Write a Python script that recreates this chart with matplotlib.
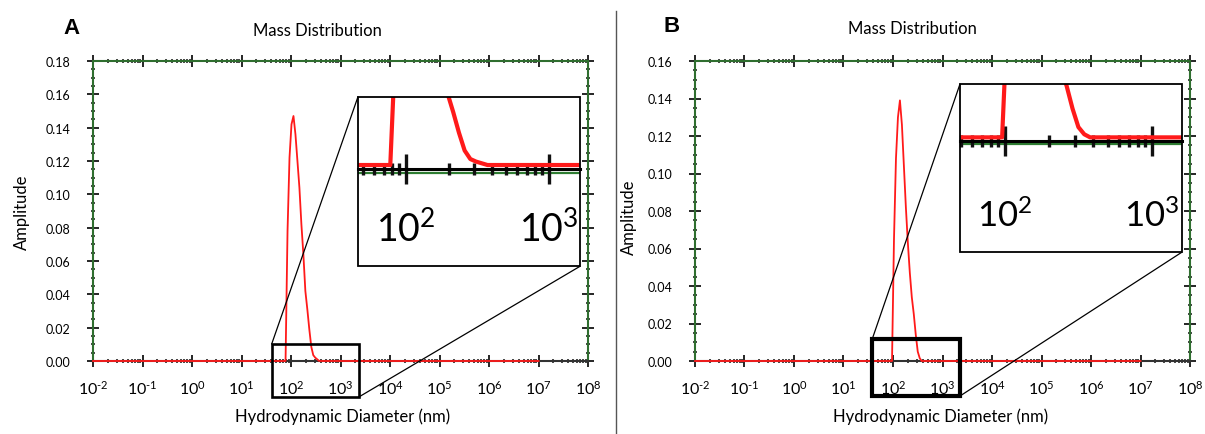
import numpy as np
import matplotlib
matplotlib.use("Agg")
import matplotlib.pyplot as plt
from matplotlib.ticker import (LogLocator, AutoMinorLocator, MultipleLocator,
                               FuncFormatter, NullFormatter, FixedLocator)
from matplotlib.patches import Rectangle, ConnectionPatch
from matplotlib.transforms import blended_transform_factory
from matplotlib.lines import Line2D

plt.rcParams['font.family'] = ['Lato', 'DejaVu Sans']
plt.rcParams['mathtext.fontset'] = 'custom'
plt.rcParams['mathtext.rm'] = 'Lato'
plt.rcParams['mathtext.it'] = 'Lato:italic'
plt.rcParams['mathtext.bf'] = 'Lato:bold'

# Mass distribution, sample A (diameter in nm, amplitude)
diam_a = [0.01, 77.6, 85.1, 93.3, 102.3, 112.2, 123.0, 134.9, 147.9, 162.2,
          177.8, 195.0, 213.8, 234.4, 257.0, 281.8, 309.0, 338.8, 371.5, 1.0e7]
amp_a = [0, 0, 0.078, 0.122, 0.142, 0.147, 0.136, 0.120, 0.104, 0.082,
         0.064, 0.042, 0.031, 0.019, 0.0085, 0.0035, 0.002, 0.001, 0, 0]

# Mass distribution, sample B
diam_b = [0.01, 95.5, 104.7, 114.8, 125.9, 138.0, 151.4, 166.0, 182.0, 199.5,
          218.8, 239.9, 263.0, 288.4, 316.2, 346.7, 380.2, 1.0e7]
amp_b = [0, 0, 0.065, 0.108, 0.130, 0.139, 0.126, 0.104, 0.082, 0.063,
         0.047, 0.034, 0.025, 0.014, 0.005, 0.0015, 0, 0]

x_decades = list(range(-2, 9))
zoom_decades = [2, 3]
ymax_a, ymax_b = 0.18, 0.16

title_text = 'Mass Distribution'
xlabel_text = 'Hydrodynamic Diameter (nm)'
ylabel_text = 'Amplitude'

W, H = 1205, 435
fig = plt.figure(figsize=(W / 100, H / 100), dpi=100)

RED = '#ff1a1a'
GREEN = '#2f6e2f'


def px_rect(left, top, right, bottom):
    return [left / W, 1 - bottom / H, (right - left) / W, (bottom - top) / H]


def decade_fmt(v, pos):
    k = int(round(np.log10(v)))
    if k < 0:
        return r'$\mathregular{10^{\text{-}%d}}$' % (-k)
    return r'$\mathregular{10^{%d}}$' % k


def panel(cfg, diam, amp, ymax):
    ax = fig.add_axes(px_rect(*cfg['main']))
    ax.plot(diam, amp, color=RED, lw=1.3, zorder=4, clip_on=False)
    ax.set_xscale('log')
    ax.set_xlim(1e-2, 1e8)
    ax.set_ylim(0, ymax)
    ax.xaxis.set_major_locator(FixedLocator([10.0 ** k for k in x_decades]))
    ax.xaxis.set_minor_locator(LogLocator(base=10, subs=np.arange(2, 10), numticks=200))
    ax.xaxis.set_major_formatter(FuncFormatter(decade_fmt))
    ax.xaxis.set_minor_formatter(NullFormatter())
    ax.yaxis.set_major_locator(MultipleLocator(0.02))
    ax.yaxis.set_minor_locator(AutoMinorLocator(4))
    ax.yaxis.set_major_formatter(FuncFormatter(lambda v, p: f'{v:.2f}'))
    ax.tick_params(which='both', direction='inout', top=True, right=True, color='#151515')
    ax.tick_params(which='major', length=8, width=1.3)
    ax.tick_params(which='minor', length=3.5, width=1.1)
    ax.tick_params(axis='x', which='major', labelsize=11.5, pad=9)
    ax.tick_params(axis='y', which='major', labelsize=9, pad=12)
    for s in ['top', 'right', 'left']:
        ax.spines[s].set_color(GREEN)
    ax.spines['bottom'].set_color('#333333')
    for s in ax.spines.values():
        s.set_linewidth(1.5)

    fig.text(cfg['title'][0] / W, 1 - cfg['title'][1] / H, title_text,
             fontsize=12, ha='center', va='center')
    fig.text(cfg['letter'][0] / W, 1 - cfg['letter'][1] / H, cfg['name'],
             fontsize=16, fontweight='bold', family='Liberation Sans',
             ha='center', va='center')
    fig.text(cfg['ylab'][0] / W, 1 - cfg['ylab'][1] / H, ylabel_text,
             fontsize=12, rotation=90, ha='center', va='center')
    fig.text(cfg['xlab'][0] / W, 1 - cfg['xlab'][1] / H, xlabel_text,
             fontsize=12, ha='center', va='center')

    # highlighted region on the main axis
    trans = blended_transform_factory(ax.transData, ax.transAxes)
    x_lo, x_hi = cfg['box_x']
    y_lo, y_hi = cfg['box_y']
    ax.add_patch(Rectangle((x_lo, y_lo), x_hi - x_lo, y_hi - y_lo,
                           transform=trans, fill=False, ec='black',
                           lw=cfg['box_lw'], clip_on=False, zorder=6))

    # magnified view
    ins = fig.add_axes(px_rect(*cfg['inset']))
    ins.plot(diam, amp, color=RED, lw=3.0, zorder=3)
    ins.set_xscale('log')
    ins.set_xlim(*cfg['inset_x'])
    ins.set_ylim(*cfg['inset_y'])
    for s in ['left', 'right', 'top']:
        ins.spines[s].set_visible(False)
    ins.spines['bottom'].set_position(('axes', cfg['axis_frac']))
    ins.spines['bottom'].set_linewidth(2.2)
    ins.spines['bottom'].set_color('black')
    ins.plot([0, 1], [cfg['axis_frac'] - 0.022] * 2, transform=ins.transAxes,
             color='#2e7d32', lw=1.6, zorder=1)
    ins.add_patch(Rectangle((0, 0), 1, 1, transform=ins.transAxes, fill=False,
                            lw=1.3, ec='black', zorder=10, clip_on=False))
    ins.set_yticks([])
    ins.xaxis.set_major_locator(FixedLocator([10.0 ** k for k in zoom_decades]))
    ins.xaxis.set_minor_locator(LogLocator(base=10, subs=np.arange(2, 10), numticks=200))
    ins.xaxis.set_major_formatter(FuncFormatter(decade_fmt))
    ins.xaxis.set_minor_formatter(NullFormatter())
    ins.tick_params(which='major', direction='inout', length=22, width=2.4,
                    labelsize=cfg['inset_fs'], pad=cfg['inset_pad'], color='#111111')
    ins.tick_params(which='minor', direction='inout', length=9, width=2.4, color='#111111')

    for xyA, xyB in [((x_lo, y_hi), (0, 1)), ((x_hi, y_lo), (1, 0))]:
        con = ConnectionPatch(xyA=xyA, coordsA=trans, xyB=xyB, coordsB=ins.transAxes,
                              color='black', lw=0.9, zorder=5)
        fig.add_artist(con)
    return ax, ins


cfg_a = dict(name='A', main=(93, 62, 588, 362), title=(317, 31), letter=(72, 29),
             ylab=(22, 212), xlab=(343, 417),
             box_x=(10 ** 1.61, 10 ** 3.37), box_y=(-0.12, 0.0567), box_lw=1.9,
             inset=(358, 97.7, 580, 267.3), inset_x=(10 ** 1.664, 10 ** 3.217),
             inset_y=(-0.0593, 0.04), axis_frac=0.574, inset_fs=27, inset_pad=18)
cfg_b = dict(name='B', main=(695, 62, 1190, 362), title=(912, 29), letter=(672, 27),
             ylab=(629, 217), xlab=(941, 417),
             box_x=(10 ** 1.58, 10 ** 3.36), box_y=(-0.116, 0.073), box_lw=3.0,
             inset=(960, 85, 1181.7, 253.3), inset_x=(10 ** 1.693, 10 ** 3.204),
             inset_y=(-0.056, 0.026), axis_frac=0.663, inset_fs=25, inset_pad=30)

panel(cfg_a, diam_a, amp_a, ymax_a)
panel(cfg_b, diam_b, amp_b, ymax_b)

fig.add_artist(Line2D([616 / W] * 2, [0, 1 - 12 / H], transform=fig.transFigure,
                      color='#555555', lw=1.0))

fig.savefig('out.png', dpi=100, facecolor='white')
